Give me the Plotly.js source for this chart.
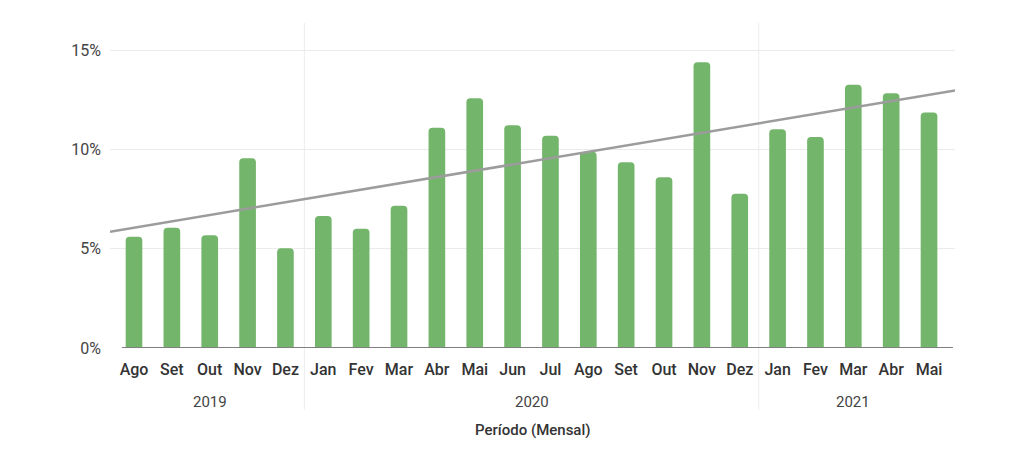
<!DOCTYPE html>
<html>
<head>
<meta charset="utf-8">
<script src="https://cdn.plot.ly/plotly-3.0.1.min.js"></script>
<style>
  html, body { margin: 0; padding: 0; background: #fff; }
  #chart { width: 1024px; height: 464px; }
</style>
</head>
<body>
<div id="chart"></div>
<script>
// ---- Data ----
const years  = ['2019','2019','2019','2019','2019',
                '2020','2020','2020','2020','2020','2020','2020','2020','2020','2020','2020','2020',
                '2021','2021','2021','2021','2021'];
const months = ['Ago','Set','Out','Nov','Dez',
                'Jan','Fev','Mar','Abr','Mai','Jun','Jul','Ago','Set','Out','Nov','Dez',
                'Jan','Fev','Mar','Abr','Mai'];
const values = [5.6, 6.05, 5.67, 9.55, 5.02,
                6.64, 6.0, 7.16, 11.09, 12.57, 11.21, 10.69, 9.88, 9.35, 8.59, 14.39, 7.77,
                11.01, 10.62, 13.25, 12.82, 11.86];
const yTicks = [0, 5, 10, 15];
const yTickLabels = ['0%', '5%', '10%', '15%'];
const xTitle = 'Período (Mensal)';

// ---- Derived ----
const idx = months.map((_, i) => i);
const xRange = [-0.634, months.length - 1 + 0.686];

// linear regression trend line
const n = values.length;
const mx = idx.reduce((a, b) => a + b, 0) / n;
const my = values.reduce((a, b) => a + b, 0) / n;
let sxy = 0, sxx = 0;
idx.forEach((x, i) => { sxy += (x - mx) * (values[i] - my); sxx += (x - mx) * (x - mx); });
const slope = sxy / sxx;
const intercept = my - slope * mx;
const trendX = xRange.slice();
const trendY = trendX.map(x => intercept + slope * x);

// year groups
const groups = [];
years.forEach((y, i) => {
  const g = groups[groups.length - 1];
  if (g && g.year === y) g.end = i; else groups.push({ year: y, start: i, end: i });
});

const shapes = [];
groups.slice(1).forEach(g => {
  shapes.push({
    type: 'line', xref: 'x', yref: 'paper',
    x0: g.start - 0.5, x1: g.start - 0.5, y0: -0.19, y1: 1,
    line: { color: '#ececec', width: 1 }, layer: 'below'
  });
});
shapes.push({
  type: 'line', xref: 'x', yref: 'y',
  x0: -0.32, x1: months.length - 1 + 0.63, y0: 0, y1: 0,
  line: { color: '#808080', width: 2 }, layer: 'above'
});

const annotations = groups.map(g => ({
  x: (g.start + g.end) / 2, xref: 'x',
  y: -0.166, yref: 'paper',
  text: g.year, showarrow: false,
  xanchor: 'center', yanchor: 'middle',
  font: { family: 'Roboto, sans-serif', size: 15, color: '#444' }
}));
annotations.push({
  x: (xRange[0] + xRange[1]) / 2, xref: 'x',
  y: -0.253, yref: 'paper',
  text: xTitle, showarrow: false,
  xanchor: 'center', yanchor: 'middle',
  font: { family: 'Roboto, sans-serif', size: 15, color: '#333', weight: 500 }
});

const traces = [
  {
    type: 'bar', x: idx, y: values,
    marker: { color: '#73b56b', cornerradius: 4 },
    hoverinfo: 'skip'
  },
  {
    type: 'scatter', mode: 'lines', x: trendX, y: trendY,
    line: { color: '#9c9c9c', width: 2.5 },
    hoverinfo: 'skip'
  }
];

const layout = {
  width: 1024, height: 464,
  margin: { l: 110, r: 69, t: 23, b: 116 },
  paper_bgcolor: '#fff', plot_bgcolor: '#fff',
  showlegend: false,
  bargap: 0.56,
  xaxis: {
    range: xRange,
    tickmode: 'array', tickvals: idx, ticktext: months,
    showgrid: false, zeroline: false, showline: false,
    ticks: '',
    tickfont: { family: 'Roboto, sans-serif', size: 16, color: '#333', weight: 500 },
    ticklabelstandoff: 10
  },
  yaxis: {
    range: [0, 16.36],
    tickmode: 'array', tickvals: yTicks, ticktext: yTickLabels,
    showgrid: true, gridcolor: '#ebebeb', gridwidth: 1,
    zeroline: false, showline: false, ticks: '',
    tickfont: { family: 'Roboto, sans-serif', size: 16, color: '#444' },
    ticklabelstandoff: 8
  },
  shapes: shapes,
  annotations: annotations
};

Plotly.newPlot('chart', traces, layout, { displayModeBar: false, staticPlot: true });
</script>
</body>
</html>
